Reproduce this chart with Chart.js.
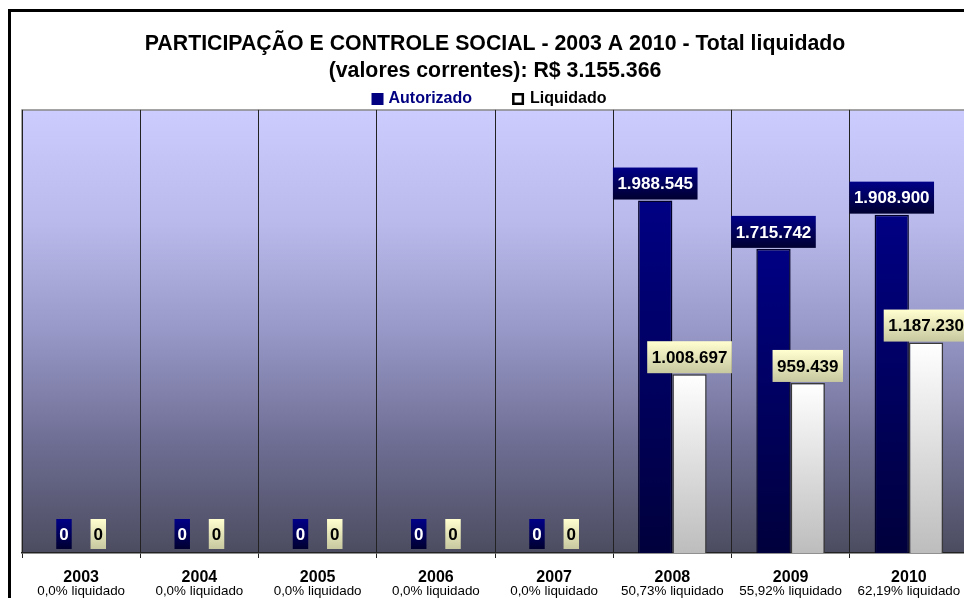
<!DOCTYPE html>
<html>
<head>
<meta charset="utf-8">
<script src="https://cdn.jsdelivr.net/npm/chart.js@4/dist/chart.umd.min.js"></script>
<style>
    html, body { margin: 0; padding: 0; background: #fff; overflow: hidden; }
    .frame { position: absolute; left: 8px; top: 9px; width: 1200px; height: 800px; border: 3px solid #000; }
    .wrap { position: absolute; left: 0; top: 0; width: 1000px; height: 598px; }
</style>
</head>
<body>
<div class="frame"></div>
<div class="wrap"><canvas id="chart" width="1000" height="598"></canvas></div>
<script>
// Data
const years = ["2003", "2004", "2005", "2006", "2007", "2008", "2009", "2010"];
const autorizado = [0, 0, 0, 0, 0, 1988545, 1715742, 1908900];
const liquidado = [0, 0, 0, 0, 0, 1008697, 959439, 1187230];
const pctLabels = ["0,0% liquidado", "0,0% liquidado", "0,0% liquidado", "0,0% liquidado",
    "0,0% liquidado", "50,73% liquidado", "55,92% liquidado", "62,19% liquidado"];
const titleLines = ["PARTICIPAÇÃO E CONTROLE SOCIAL - 2003 A 2010 - Total liquidado",
    "(valores correntes): R$ 3.155.366"];

const FONT = 'Arial, "Liberation Sans", sans-serif';

function fmt(v) {
    return String(v).replace(/\B(?=(\d{3})+(?!\d))/g, ".");
}

// vertical gradient for each bar, from its top to the axis
function barGradient(top, bottom) {
    return function (context) {
        const chart = context.chart;
        if (!chart.chartArea || context.type !== "data") return top;
        const y = chart.scales.y;
        const y0 = y.getPixelForValue(context.parsed ? context.parsed.y : 0);
        const y1 = y.getPixelForValue(0);
        if (y1 - y0 < 1) return top;
        const g = chart.ctx.createLinearGradient(0, y0, 0, y1);
        g.addColorStop(0, top);
        g.addColorStop(1, bottom);
        return g;
    };
}

// plot background
const plotBackground = {
    id: "plotBackground",
    beforeDraw(chart) {
        const { ctx, chartArea: a } = chart;
        const g = ctx.createLinearGradient(0, a.top, 0, a.bottom);
        g.addColorStop(0, "#ccccff");
        g.addColorStop(0.25, "#babaec");
        g.addColorStop(0.5, "#9898c8");
        g.addColorStop(0.75, "#6e6e94");
        g.addColorStop(1, "#4c4c60");
        ctx.save();
        ctx.fillStyle = g;
        ctx.fillRect(a.left, a.top, a.right - a.left, a.bottom - a.top);
        ctx.strokeStyle = "#888";
        ctx.lineWidth = 1.5;
        ctx.beginPath();
        ctx.moveTo(a.left, a.bottom);
        ctx.lineTo(a.left, a.top);
        ctx.lineTo(a.right, a.top);
        ctx.stroke();
        ctx.restore();
    }
};

// legend drawn between title and plot, from the dataset labels/colours
const legendRow = {
    id: "legendRow",
    afterDraw(chart) {
        const ctx = chart.ctx;
        const ds = chart.data.datasets;
        const cy = 99;
        ctx.save();
        ctx.font = "bold 16px " + FONT;
        ctx.textBaseline = "middle";
        ctx.textAlign = "left";
        const w0 = ctx.measureText(ds[0].label).width;
        const w1 = ctx.measureText(ds[1].label).width;
        const total = 12 + 5 + w0 + 40 + 12 + 6 + w1;
        let x = 489 - total / 2;
        ctx.fillStyle = "#000080";
        ctx.fillRect(x, cy - 6, 12, 12);
        x += 17;
        ctx.fillText(ds[0].label, x, cy);
        x += w0 + 40;
        ctx.fillStyle = "#fff";
        ctx.fillRect(x, cy - 6, 12, 12);
        ctx.strokeStyle = "#000";
        ctx.lineWidth = 2.5;
        ctx.strokeRect(x + 1.25, cy - 4.75, 9.5, 9.5);
        x += 18;
        ctx.fillStyle = "#000";
        ctx.fillText(ds[1].label, x, cy);
        ctx.restore();
    }
};

// value boxes on the bars and second line of the category labels
const valueLabels = {
    id: "valueLabels",
    afterDatasetsDraw(chart) {
        const ctx = chart.ctx;
        const yScale = chart.scales.y;
        const base = yScale.getPixelForValue(0);
        ctx.save();
        ctx.font = "bold 17px " + FONT;
        ctx.textAlign = "center";
        ctx.textBaseline = "middle";
        chart.data.datasets.forEach(function (ds, di) {
            const meta = chart.getDatasetMeta(di);
            meta.data.forEach(function (bar, i) {
                const v = ds.data[i];
                const text = fmt(v);
                const tw = ctx.measureText(text).width;
                const w = tw + (text.length > 1 ? 9 : 6);
                const h = v > 0 ? 32 : 30;
                const bottom = v > 0 ? bar.y - 1 : base - 4;
                const top = bottom - h;
                const g = ctx.createLinearGradient(0, top, 0, bottom);
                if (di === 0) {
                    g.addColorStop(0, "#000088");
                    g.addColorStop(1, "#000030");
                } else {
                    g.addColorStop(0, "#ffffd0");
                    g.addColorStop(1, "#c8c8a0");
                }
                ctx.fillStyle = g;
                ctx.fillRect(bar.x - w / 2, top, w, h);
                ctx.fillStyle = di === 0 ? "#ffffff" : "#000000";
                ctx.fillText(text, bar.x, top + h / 2 + 1);
            });
        });
        ctx.restore();
    },
    afterDraw(chart) {
        const ctx = chart.ctx;
        const x = chart.scales.x;
        ctx.save();
        ctx.font = "13.4px " + FONT;
        ctx.fillStyle = "#000";
        ctx.textAlign = "center";
        ctx.textBaseline = "middle";
        pctLabels.forEach(function (t, i) {
            ctx.fillText(t, x.getPixelForValue(i), 591);
        });
        ctx.restore();
    }
};

const ctx = document.getElementById("chart").getContext("2d");
new Chart(ctx, {
    type: "bar",
    data: {
        labels: years,
        datasets: [
            {
                label: "Autorizado",
                data: autorizado,
                backgroundColor: barGradient("#000084", "#00003c"),
                borderColor: "#000028",
                borderWidth: 1.5,
                categoryPercentage: 0.58,
                barPercentage: 1.0
            },
            {
                label: "Liquidado",
                data: liquidado,
                backgroundColor: barGradient("#ffffff", "#bdbdbd"),
                borderColor: "#3a3a3a",
                borderWidth: 1.5,
                categoryPercentage: 0.58,
                barPercentage: 1.0
            }
        ]
    },
    options: {
        responsive: false,
        animation: false,
        layout: { padding: { left: 22, right: 32, top: 0, bottom: 0 } },
        plugins: {
            title: {
                display: true,
                text: titleLines,
                color: "#000",
                font: { family: FONT, size: 21.3, weight: "bold", lineHeight: 1.3 },
                padding: { top: 30, bottom: 24.5 }
            },
            legend: { display: false },
            tooltip: { enabled: false }
        },
        scales: {
            x: {
                grid: { color: "#222", lineWidth: 1, tickLength: 5, offset: true, drawOnChartArea: true },
                border: { display: true, color: "#222", width: 1.5 },
                ticks: {
                    color: "#000",
                    padding: 12,
                    font: { family: FONT, size: 16, weight: "bold", lineHeight: 1.0 }
                }
            },
            y: {
                display: false,
                min: 0,
                max: 2500000
            }
        }
    },
    plugins: [plotBackground, valueLabels, legendRow]
});
</script>
</body>
</html>
